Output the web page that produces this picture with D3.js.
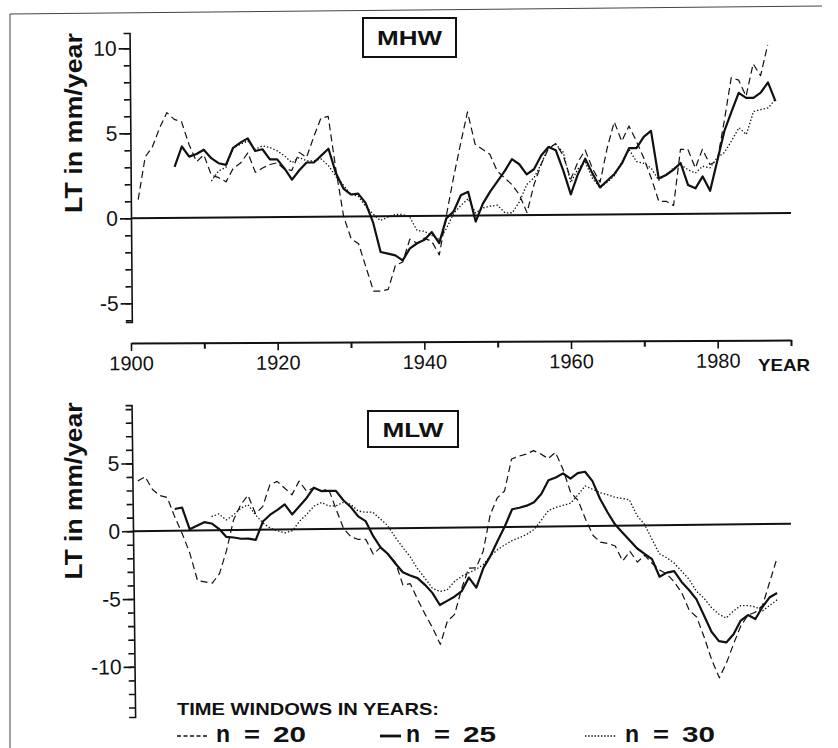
<!DOCTYPE html>
<html>
<head>
<meta charset="utf-8">
<script src="https://cdn.jsdelivr.net/npm/d3@7"></script>
<style>
  body { margin: 0; background: #fff; }
  text { font-family: "Liberation Sans", Arial, Helvetica, sans-serif; fill: #111; }
</style>
</head>
<body>
<div id="chart"></div>
<script>
// first year of each running window series
const start_n20 = 1901;
const start_n25 = 1906;
const start_n30 = 1911;

// MHW, LT in mm/year (one value per year)
const mhw_n20 = [1.1, 3.6, 4.2, 5.3, 6.2, 5.8, 5.65, 4.3, 3.3, 3.7,
  2.5, 2.35, 2.1, 2.9, 3.2, 3.8, 2.65, 2.9, 3.1, 3.2,
  2.8, 2.75, 3.8, 3.5, 4.7, 5.8, 5.9, 2.75, 0.0, -1.3,
  -1.6, -3.0, -4.4, -4.4, -4.3, -2.9, -2.7, -1.35, -1.6, -1.3,
  -1.5, -2.3, 0.0, 2.2, 4.2, 6.1, 4.2, 3.9, 3.6, 2.6,
  2.2, 1.8, 1.2, 0.15, 1.8, 3.0, 3.9, 4.2, 3.5, 2.1,
  3.1, 3.8, 2.7, 1.9, 3.9, 5.45, 4.3, 5.2, 4.3, 3.3,
  2.1, 0.75, 0.75, 0.5, 3.8, 3.8, 2.7, 3.8, 2.9, 3.1,
  5.45, 8.0, 7.85, 6.9, 8.8, 8.1, 9.9];
const mhw_n25 = [3.0, 4.2, 3.6, 3.75, 4.0,
  3.5, 3.2, 3.1, 4.1, 4.4, 4.65, 3.9, 4.0, 3.4, 3.4,
  2.85, 2.2, 2.75, 3.2, 3.2, 3.6, 4.0, 2.55, 1.65, 1.3,
  1.35, 0.8, -0.35, -2.1, -2.2, -2.3, -2.6, -1.9, -1.6, -1.4,
  -0.95, -1.6, -0.15, 0.25, 1.2, 1.4, -0.35, 0.7, 1.4, 2.0,
  2.6, 3.3, 3.0, 2.4, 2.7, 3.5, 4.0, 3.8, 2.6, 1.2,
  2.4, 3.3, 2.4, 1.6, 2.0, 2.4, 3.0, 3.9, 3.9, 4.55,
  4.9, 2.1, 2.3, 2.6, 3.0, 1.7, 1.5, 2.2, 1.35, 3.1,
  4.85, 6.0, 7.1, 6.8, 6.8, 7.1, 7.7, 6.6];
const mhw_n30 = [2.15, 2.75, 2.95, 4.1, 4.3, 4.5, 4.0, 4.2, 4.1, 3.9,
  3.6, 3.2, 3.5, 3.3, 3.3, 3.4, 3.0, 2.35, 1.85, 1.3,
  1.2, 0.6, 0.15, -0.25, -0.05, 0.1, 0.1, -0.05, -0.85, -0.9,
  -1.15, -1.4, -0.75, 0.15, 0.6, 1.0, 0.15, 0.45, 0.55, 0.6,
  0.15, 0.15, 0.8, 1.8, 2.2, 3.0, 4.0, 4.15, 3.7, 1.9,
  2.7, 3.1, 2.1, 1.6, 1.9, 2.3, 3.1, 3.8, 3.1, 3.0,
  2.7, 2.0, 2.3, 2.7, 2.9, 2.6, 2.4, 2.8, 2.7, 3.3,
  3.6, 4.3, 5.05, 4.65, 6.0, 6.1, 6.2, 6.7];

// MLW, LT in mm/year
const mlw_n20 = [3.7, 4.0, 3.05, 2.6, 2.45, 1.0, -0.25, -1.7, -3.7, -3.8,
  -3.9, -3.2, -1.5, 0.75, 1.85, 2.55, 1.2, 1.7, 3.3, 3.55,
  3.05, 2.55, 3.55, 2.8, 3.05, 2.8, 2.95, 1.45, 0.0, -0.6,
  -0.8, -0.8, -1.9, -1.4, -1.9, -2.5, -4.2, -4.1, -5.3, -6.4,
  -7.4, -8.6, -6.9, -6.4, -4.5, -3.0, -3.0, -1.75, 0.9, 2.15,
  2.65, 5.0, 5.2, 5.35, 5.6, 5.35, 5.0, 5.45, 4.2, 2.5,
  1.9, 0.5, -0.7, -1.2, -1.3, -1.5, -2.6, -1.9, -2.7, -2.2,
  -2.8, -3.3, -3.6, -4.2, -5.0, -6.3, -6.8, -8.3, -10.0, -11.3,
  -10.2, -8.8, -7.5, -6.7, -6.5, -6.0, -4.3, -2.6];
const mlw_n25 = [1.6, 1.7, 0.1, 0.35, 0.6,
  0.5, 0.1, -0.5, -0.55, -0.65, -0.65, -0.75, 0.6, 1.1, 1.45,
  1.85, 1.1, 1.7, 2.3, 3.05, 2.8, 2.8, 2.8, 2.1, 1.6,
  0.9, 0.55, -0.55, -1.4, -1.9, -2.6, -3.25, -3.5, -3.7, -4.2,
  -4.8, -5.7, -5.4, -5.1, -4.7, -3.7, -4.45, -3.0, -2.1, -1.0,
  0.07, 1.3, 1.4, 1.55, 1.8, 2.4, 3.4, 3.6, 3.9, 3.5,
  3.9, 4.0, 3.3, 2.0, 1.0, 0.1, -0.5, -1.1, -1.7, -2.1,
  -2.5, -3.8, -3.5, -3.4, -4.2, -4.8, -5.5, -6.7, -7.9, -8.6,
  -8.7, -8.1, -7.1, -6.7, -7.0, -6.1, -5.4, -5.1];
const mlw_n30 = [1.0, 1.2, 0.75, 1.1, 1.6, 1.85, 1.1, 0.5, 0.1, -0.1,
  -0.25, -0.1, 0.6, 1.1, 1.7, 1.95, 1.7, 1.7, 1.95, 1.8,
  1.3, 1.2, 1.2, 0.7, 0.2, -0.65, -1.4, -2.1, -3.0, -3.7,
  -4.45, -4.7, -4.6, -4.0, -3.6, -3.35, -3.1, -2.75, -2.1, -1.65,
  -1.3, -1.0, -0.8, -0.55, -0.2, 0.5, 1.2, 1.4, 1.55, 1.7,
  2.3, 2.95, 2.7, 2.45, 2.3, 2.1, 2.0, 1.9, 0.75, 0.1,
  -1.0, -2.1, -2.4, -2.8, -3.4, -4.0, -4.9, -5.4, -6.1, -6.6,
  -6.9, -6.4, -6.0, -6.0, -6.1, -6.4, -6.0, -5.6];

// axis ticks
const xMajor = [1900, 1920, 1940, 1960, 1980];
const xMinor = [1910, 1930, 1950, 1970, 1990];
const yMajorTop = [-5, 0, 5, 10];
const yMajorBot = [-10, -5, 0, 5];

const w = 838, h = 748;

const svg = d3.select("#chart").append("svg")
    .attr("width", w)
    .attr("height", h);

// scanned page frame
svg.append("path")
    .attr("d", "M10,748 L10,14 L822,6")
    .attr("fill", "none")
    .attr("stroke", "#444")
    .attr("stroke-width", 1);

const x = d3.scaleLinear().domain([1900, 1990]).range([131, 791]);
const yTop = d3.scaleLinear().domain([-6.1, 10.9]).range([322, 33]);
const yBot = d3.scaleLinear().domain([-13.7, 9.3]).range([717, 405]);

// turn a value array into {year, v}
function toPoints(arr, startYear) {
    return arr.map(function(v, i) { return { year: startYear + i, v: v }; });
}

const styles = [
    { key: "n20", dash: "7,4", width: 1.2 },
    { key: "n25", dash: null, width: 2.2 },
    { key: "n30", dash: "1.4,2", width: 1.3 }
];

function drawPanel(g, y, series, yMajor, axisX) {
    // minor ticks every 1 mm/year
    g.append("g")
        .attr("transform", "translate(" + axisX + ",0)")
        .call(d3.axisLeft(y).tickValues(d3.range(Math.ceil(y.domain()[0]), Math.floor(y.domain()[1]) + 1))
            .tickSize(6).tickSizeOuter(6).tickFormat(""))
        .call(function(a) { a.selectAll("path, line").attr("stroke", "#111").attr("stroke-width", 1.6); });

    g.append("g")
        .attr("transform", "translate(" + axisX + ",0)")
        .call(d3.axisLeft(y).tickValues(yMajor).tickSize(11).tickSizeOuter(0).tickFormat(function(d) { return String(d); }))
        .call(function(a) {
            a.select(".domain").remove();
            a.selectAll("line").attr("stroke", "#111").attr("stroke-width", 1.6);
            a.selectAll("text")
                .attr("x", -13)
                .style("font-size", "21px")
                .style("font-family", "'Liberation Sans', Arial, sans-serif")
                .attr("fill", "#111");
        });

    // zero line
    g.append("line")
        .attr("x1", axisX).attr("x2", x(1990))
        .attr("y1", y(0)).attr("y2", y(0))
        .attr("stroke", "#111")
        .attr("stroke-width", 2);

    const line = d3.line()
        .x(function(d) { return x(d.year); })
        .y(function(d) { return y(d.v); });

    styles.forEach(function(s) {
        g.append("path")
            .datum(series[s.key])
            .attr("d", line)
            .attr("fill", "none")
            .attr("stroke", "#111")
            .attr("stroke-width", s.width)
            .attr("stroke-linejoin", "round")
            .attr("stroke-dasharray", s.dash);
    });
}

// ---- MHW panel ----
const topPanel = svg.append("g").attr("transform", "rotate(-0.45,131,218)");
drawPanel(topPanel, yTop, {
    n20: toPoints(mhw_n20, start_n20),
    n25: toPoints(mhw_n25, start_n25),
    n30: toPoints(mhw_n30, start_n30)
}, yMajorTop, 131);

// year axis under MHW
const xg = svg.append("g").attr("transform", "rotate(-0.25,131,343)");
xg.append("g")
    .attr("transform", "translate(0,343)")
    .call(d3.axisBottom(x).tickValues(xMinor).tickSize(6).tickSizeOuter(0).tickFormat(""))
    .call(function(a) { a.selectAll("path, line").attr("stroke", "#111").attr("stroke-width", 2); });
xg.append("g")
    .attr("transform", "translate(0,343)")
    .call(d3.axisBottom(x).tickValues(xMajor).tickSize(8).tickFormat(d3.format("d")))
    .call(function(a) {
        a.select(".domain").remove();
        a.selectAll("line").attr("stroke", "#111").attr("stroke-width", 1.6);
        a.selectAll("text")
            .attr("y", 13)
            .style("font-size", "20px")
            .style("font-family", "'Liberation Sans', Arial, sans-serif")
            .attr("fill", "#111");
    });
svg.append("text")
    .attr("x", 784).attr("y", 371)
    .attr("text-anchor", "middle")
    .attr("textLength", 52)
    .attr("lengthAdjust", "spacingAndGlyphs")
    .style("font-size", "17px")
    .style("font-weight", "bold")
    .text("YEAR");

// ---- MLW panel ----
const botPanel = svg.append("g").attr("transform", "rotate(-0.65,133,531)");
drawPanel(botPanel, yBot, {
    n20: toPoints(mlw_n20, start_n20),
    n25: toPoints(mlw_n25, start_n25),
    n30: toPoints(mlw_n30, start_n30)
}, yMajorBot, 133);

// y axis titles
[[123, 180], [491, 177]].forEach(function(p) {
    svg.append("text")
        .attr("transform", "translate(82," + p[0] + ") rotate(-90)")
        .attr("text-anchor", "middle")
        .attr("textLength", p[1])
        .attr("lengthAdjust", "spacingAndGlyphs")
        .style("font-size", "23px")
        .style("font-weight", "bold")
        .text("LT in mm/year");
});

// boxed panel names
[{ t: "MHW", x: 363, y: 18, w: 93, h: 39, tl: 65 }, { t: "MLW", x: 368, y: 411, w: 90, h: 36, tl: 61 }].forEach(function(b) {
    svg.append("rect")
        .attr("x", b.x).attr("y", b.y)
        .attr("width", b.w).attr("height", b.h)
        .attr("fill", "#fff")
        .attr("stroke", "#111")
        .attr("stroke-width", 2);
    svg.append("text")
        .attr("x", b.x + b.w / 2).attr("y", b.y + b.h / 2 + 7.5)
        .attr("text-anchor", "middle")
        .attr("textLength", b.tl)
        .attr("lengthAdjust", "spacingAndGlyphs")
        .style("font-size", "21px")
        .style("font-weight", "bold")
        .text(b.t);
});

// legend
svg.append("text")
    .attr("x", 177).attr("y", 715)
    .attr("textLength", 262)
    .attr("lengthAdjust", "spacingAndGlyphs")
    .style("font-size", "17px")
    .style("font-weight", "bold")
    .text("TIME WINDOWS IN YEARS:");

const legendItems = [
    { key: "n20", label: "20", x0: 177, x1: 208, nx: 216 },
    { key: "n25", label: "25", x0: 380, x1: 401, nx: 406 },
    { key: "n30", label: "30", x0: 585, x1: 617, nx: 625 }
];
legendItems.forEach(function(it) {
    svg.append("line")
        .attr("x1", it.x0).attr("x2", it.x1)
        .attr("y1", 736).attr("y2", 736)
        .attr("stroke", "#111")
        .attr("stroke-width", it.key === "n25" ? 2.8 : 1.6)
        .attr("stroke-dasharray", it.key === "n20" ? "4,2.5" : (it.key === "n30" ? "1.4,1.8" : null));
    svg.append("text")
        .attr("x", it.nx).attr("y", 742)
        .style("font-size", "23px")
        .style("font-weight", "bold")
        .text("n");
    svg.append("text")
        .attr("x", it.nx + 28).attr("y", 742)
        .attr("textLength", 16)
        .attr("lengthAdjust", "spacingAndGlyphs")
        .style("font-size", "22px")
        .style("font-weight", "bold")
        .text("=");
    svg.append("text")
        .attr("x", it.nx + 57).attr("y", 742)
        .attr("textLength", 33)
        .attr("lengthAdjust", "spacingAndGlyphs")
        .style("font-size", "22px")
        .style("font-weight", "bold")
        .text(it.label);
});
</script>
</body>
</html>
